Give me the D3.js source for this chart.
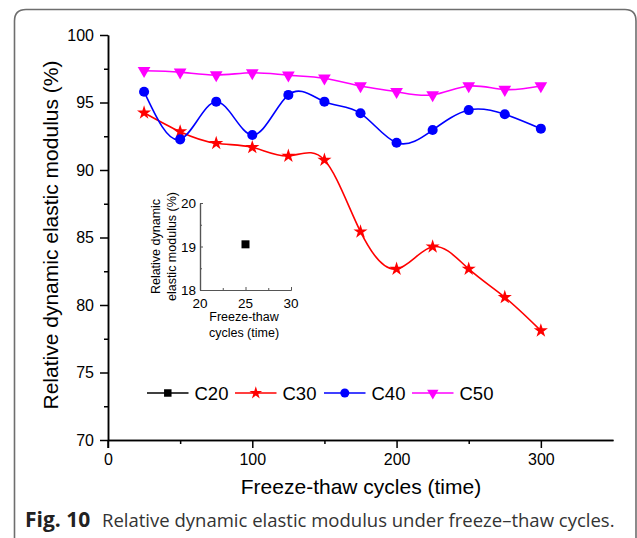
<!DOCTYPE html>
<html><head><meta charset="utf-8">
<script src="https://cdn.jsdelivr.net/npm/d3@7"></script>
<style>body{margin:0;background:#fff}svg{display:block}</style>
</head><body>
<svg id="c" width="637" height="538"></svg>
<script>
const cycles = [25,50,75,100,125,150,175,200,225,250,275,300];
const c30 = [94.24,92.84,91.98,91.68,91.04,90.74,85.43,82.67,84.32,82.67,80.57,78.10];
const c40 = [95.80,92.27,95.06,92.59,95.56,95.06,94.20,92.02,92.96,94.44,94.13,93.06];
const c50 = [97.35,97.25,97.04,97.20,97.02,96.80,96.22,95.80,95.56,96.22,95.96,96.22];
const insetX = [25];
const insetC20 = [19.05];
const xTicks = [0,100,200,300];
const yTicks = [70,75,80,85,90,95,100];
const insetXTicks = [20,25,30];
const insetYTicks = [18,19,20];
const legendNames = ["C20","C30","C40","C50"];

const svg = d3.select("#c");
const F = "'Liberation Sans', Arial, sans-serif";

svg.append("path")
  .attr("d","M14.5,540 V21 Q14.5,9.5 26,9.5 H625 Q636,9.5 636,21 V540")
  .attr("fill","none").attr("stroke","#6e6e6e").attr("stroke-width",1.6);

const x = d3.scaleLinear().domain([0,350]).range([108,613]);
const y = d3.scaleLinear().domain([70,100]).range([440,35]);

svg.append("g").attr("transform","translate(0,440)")
  .call(d3.axisBottom(x).tickValues(xTicks).tickSize(8).tickSizeOuter(0).tickPadding(6).tickFormat(d3.format("d")));
svg.append("g").attr("transform","translate(0,440)")
  .call(d3.axisBottom(x).tickValues([50,150,250]).tickSize(4).tickSizeOuter(0).tickFormat(""));
svg.append("g").attr("transform","translate(108,0)")
  .call(d3.axisLeft(y).tickValues(yTicks).tickSize(8).tickSizeOuter(0).tickPadding(6));
svg.append("g").attr("transform","translate(108,0)")
  .call(d3.axisLeft(y).tickValues([72.5,77.5,82.5,87.5,92.5,97.5]).tickSize(4).tickSizeOuter(0).tickFormat(""));
svg.selectAll(".domain").attr("stroke","#000").attr("stroke-width",1.5);
svg.selectAll(".tick line").attr("stroke","#000").attr("stroke-width",1.5);
svg.selectAll(".tick text").attr("font-family",F).attr("font-size",16).attr("fill","#000");
svg.append("line").attr("x1",108).attr("x2",108).attr("y1",440).attr("y2",448).attr("stroke","#000").attr("stroke-width",1.5);

svg.append("text").attr("transform","translate(58,235) rotate(-90)")
  .attr("text-anchor","middle").attr("font-family",F).attr("font-size",21)
  .text("Relative dynamic elastic modulus (%)");
svg.append("text").attr("x",361).attr("y",494)
  .attr("text-anchor","middle").attr("font-family",F).attr("font-size",21)
  .text("Freeze-thaw cycles (time)");

const CF = "'Open Sans', 'Noto Sans', sans-serif";
svg.append("text").attr("x",25).attr("y",527).attr("font-family",CF).attr("font-size",21)
  .attr("font-weight","bold").attr("fill","#222").text("Fig. 10");
svg.append("text").attr("x",102).attr("y",527).attr("font-family",CF).attr("font-size",18.5)
  .attr("fill","#333").text("Relative dynamic elastic modulus under freeze–thaw cycles.");

const series = [
  {name:"C30", vals:c30, color:"#ff0000", sym:d3.symbolStar, size:62, rot:0},
  {name:"C40", vals:c40, color:"#0000ff", sym:d3.symbolCircle, size:80, rot:0},
  {name:"C50", vals:c50, color:"#ff00ff", sym:d3.symbolTriangle, size:70, rot:180}
];
const line = d3.line().x((d,i)=>x(cycles[i])).y(d=>y(d)).curve(d3.curveNatural);
series.forEach(s=>{
  svg.append("path").attr("d",line(s.vals)).attr("fill","none").attr("stroke",s.color).attr("stroke-width",1.6);
  svg.append("g").selectAll("path").data(s.vals).join("path")
    .attr("d",d3.symbol(s.sym,s.size))
    .attr("transform",(d,i)=>`translate(${x(cycles[i])},${y(d)}) rotate(${s.rot})`)
    .attr("fill",s.color);
});

const ix = d3.scaleLinear().domain([20,30]).range([200,291]);
const iy = d3.scaleLinear().domain([18,20]).range([290,203]);
const ig = svg.append("g");
ig.append("g").attr("transform","translate(0,290)")
  .call(d3.axisTop(ix).tickValues(insetXTicks).tickSize(3).tickSizeOuter(0).tickFormat(""));
ig.append("g").attr("transform","translate(0,290)")
  .call(d3.axisTop(ix).tickValues([22.5,27.5]).tickSize(2).tickSizeOuter(0).tickFormat(""));
ig.append("g").attr("transform","translate(200,0)")
  .call(d3.axisRight(iy).tickValues(insetYTicks).tickSize(3).tickSizeOuter(0).tickFormat(""));
ig.append("g").attr("transform","translate(200,0)")
  .call(d3.axisRight(iy).tickValues([18.5,19.5]).tickSize(2).tickSizeOuter(0).tickFormat(""));
ig.selectAll(".domain").attr("stroke","#555").attr("stroke-width",1.2);
ig.selectAll(".tick line").attr("stroke","#555").attr("stroke-width",1);
ig.selectAll("text.xl").data(insetXTicks).join("text").attr("class","xl")
  .attr("x",d=>ix(d)).attr("y",308).attr("text-anchor","middle")
  .attr("font-family",F).attr("font-size",13.5).text(d=>d);
ig.selectAll("text.yl").data(insetYTicks).join("text").attr("class","yl")
  .attr("x",196).attr("y",d=>iy(d)+5).attr("text-anchor","end")
  .attr("font-family",F).attr("font-size",13.5).text(d=>d);
ig.append("text").attr("transform","translate(160,246.5) rotate(-90)").attr("text-anchor","middle")
  .attr("font-family",F).attr("font-size",12.5).text("Relative dynamic");
ig.append("text").attr("transform","translate(176,246.5) rotate(-90)").attr("text-anchor","middle")
  .attr("font-family",F).attr("font-size",12.5).text("elastic modulus (%)");
ig.append("text").attr("x",244).attr("y",321).attr("text-anchor","middle")
  .attr("font-family",F).attr("font-size",12.5).text("Freeze-thaw");
ig.append("text").attr("x",244).attr("y",337).attr("text-anchor","middle")
  .attr("font-family",F).attr("font-size",12.5).text("cycles (time)");
ig.selectAll("rect.pt").data(insetC20).join("rect").attr("class","pt")
  .attr("x",(d,i)=>ix(insetX[i])-4).attr("y",d=>iy(d)-4).attr("width",8).attr("height",8).attr("fill","#000");

const legendItems = [
  {color:"#000", sym:d3.symbolSquare, size:56, rot:0},
  {color:"#ff0000", sym:d3.symbolStar, size:50, rot:0},
  {color:"#0000ff", sym:d3.symbolCircle, size:64, rot:0},
  {color:"#ff00ff", sym:d3.symbolTriangle, size:56, rot:180}
];
const lx0 = [147,235,324,412];
legendItems.forEach((it,i)=>{
  const g = svg.append("g").attr("transform",`translate(${lx0[i]},393)`);
  g.append("line").attr("x1",0).attr("x2",41.5).attr("stroke",it.color).attr("stroke-width",1.6);
  g.append("path").attr("d",d3.symbol(it.sym,it.size)).attr("transform",`translate(20.8,0) rotate(${it.rot})`).attr("fill",it.color);
  g.append("text").attr("x",47.5).attr("y",6.5).attr("font-family",F).attr("font-size",18.5).text(legendNames[i]);
});
</script>
</body></html>
